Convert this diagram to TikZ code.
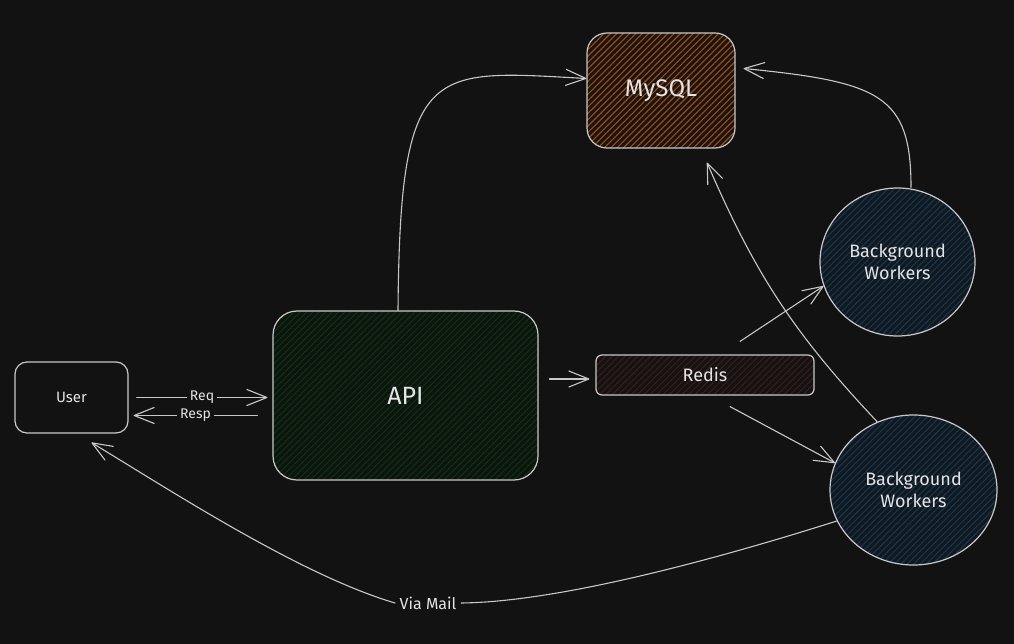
\documentclass[tikz,border=0pt]{standalone}
\usepackage{fontspec}
\setmainfont{Fira Sans}
\usetikzlibrary{arrows.meta,patterns.meta,shapes.geometric}

\definecolor{bg}{HTML}{121212}
\definecolor{ink}{HTML}{C8C8C8}
\definecolor{txt}{HTML}{E4E4E4}
\definecolor{sqlbase}{HTML}{1C140F}
\definecolor{sqlline}{HTML}{9A4E1C}
\definecolor{apibase}{HTML}{0B150D}
\definecolor{apiline}{HTML}{122E17}
\definecolor{redbase}{HTML}{171212}
\definecolor{redline}{HTML}{351E1E}
\definecolor{bwbase}{HTML}{111920}
\definecolor{bwline}{HTML}{1B344C}

\begin{document}
\begin{tikzpicture}[x=1pt,y=-1pt,
    hatch/.style 2 args={preaction={fill=#1},
      pattern={Lines[angle=45,distance=4.5pt,line width=1.1pt]},pattern color=#2},
    box/.style={draw=ink,line width=1.2pt,text=txt,rounded corners=#1},
    box/.default=12pt,
    lbl/.style={fill=bg,text=txt,inner sep=3pt,draw=none,rounded corners=0pt},
    arr/.style={draw=ink,line width=1.1pt,line cap=round,
      -{Straight Barb[length=20pt,width=16pt,round]}}]

        \fill[bg] (0,0) rectangle (1014,644);

        \begin{scope}[every node/.style={box,align=center}]
          \node[minimum width=113pt,minimum height=71pt,
            font=\fontsize{15}{17}\selectfont] (user) at (71.5,397.5) {User};
          \node[minimum width=265pt,minimum height=169pt,rounded corners=24pt,
            hatch={apibase}{apiline},font=\fontsize{25}{28}\selectfont]
            (api) at (405.5,395.5) {API};
          \node[minimum width=148pt,minimum height=115pt,rounded corners=20pt,
            hatch={sqlbase}{sqlline},font=\fontsize{24}{28}\selectfont]
            (mysql) at (661,90.5) {MySQL};
          \node[minimum width=218pt,minimum height=40pt,rounded corners=6pt,
            hatch={redbase}{redline},font=\fontsize{18}{20}\selectfont]
            (redis) at (705,375) {Redis};
          \node[ellipse,inner sep=0pt,minimum width=155pt,minimum height=148pt,
            hatch={bwbase}{bwline},font=\fontsize{18}{22}\selectfont]
            (bwa) at (897.5,262) {Background\\Workers};
          \node[ellipse,inner sep=0pt,minimum width=167pt,minimum height=150pt,
            hatch={bwbase}{bwline},font=\fontsize{18}{22}\selectfont]
            (bwb) at (913.5,490) {Background\\Workers};
          \node[lbl,inner sep=4pt,font=\fontsize{16}{18}\selectfont]
            (mail) at (428,603) {Via Mail};
        \end{scope}

        \begin{scope}[every node/.style={lbl,font=\fontsize{14}{16}\selectfont}]

          \begin{scope}[every edge/.style={arr}]
            \path ([xshift=8pt]user.east) edge node {Req}
              ([xshift=-5pt]user.east -| api.west);
            \path ([xshift=-15pt,yshift=-18pt]user.east -| api.west) edge node {Resp}
              ([xshift=5pt,yshift=-18pt]user.east);
            \path ([xshift=11pt,yshift=-4pt]api.east |- redis.west) edge
              ([xshift=-6pt,yshift=-4pt]redis.west);
            \path ([shift={(35pt,13pt)}]redis.north) edge (bwa.198);
            \path ([shift={(25pt,-11pt)}]redis.south) edge (bwb.161);
            \path (bwb.118) edge[bend left=10] ([shift={(46pt,-14pt)}]mysql.south);
          \end{scope}
        \end{scope}

        \draw[arr] ([xshift=-7.5pt]api.north) .. controls (400,60) and (430,70)
          .. ([yshift=12pt]mysql.west);
        \draw[arr] ([xshift=13.5pt]bwa.north) .. controls (911,95) and (880,82)
          .. ([shift={(8pt,22pt)}]mysql.east);
        \draw[draw=ink,line width=1.1pt] (bwb.202) .. controls (720,558) and (560,602)
          .. (mail.east);
        \draw[arr] (mail.west) .. controls (300,575) and (170,490)
          .. ([shift={(20pt,-9pt)}]user.south);

      \end{tikzpicture}
\end{document}
